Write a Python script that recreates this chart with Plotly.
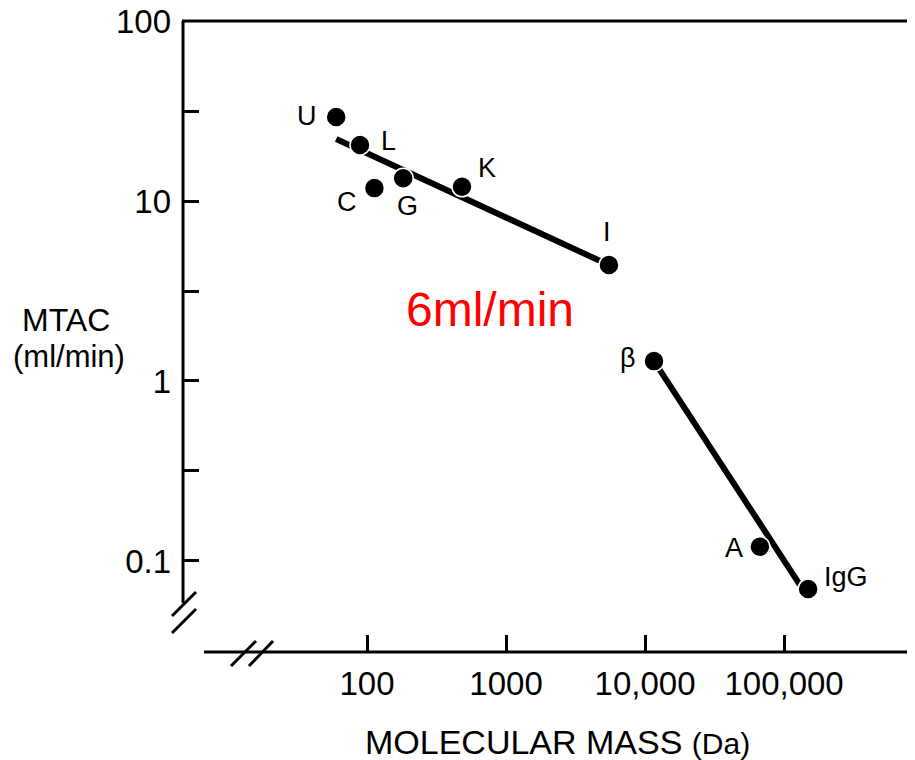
import numpy as np
import plotly.graph_objects as go

# ---- data ----
labels = ["U", "L", "C", "G", "K", "I", "β", "A", "IgG"]
mass_da = [60, 89, 113, 182, 482, 5500, 11600, 67000, 149000]
mtac = [29.3, 20.5, 11.8, 13.4, 12.0, 4.41, 1.29, 0.120, 0.0699]

small_line_mass = [60, 5500]
small_line_mtac = [22.1, 4.41]
large_line_mass = [11600, 130000]
large_line_mtac = [1.29, 0.0736]

x_tick_vals = [100, 1000, 10000, 100000]
x_tick_text = ["100", "1000", "10,000", "100,000"]
y_tick_vals = [0.1, 0.3162, 1, 3.162, 10, 31.62, 100]
y_tick_text = ["0.1", "", "1", "", "10", "", "100"]

annotation_text = "6ml/min"

# ---- layout constants (reference pixels; page body has 8px margin) ----
OFF = 8
W, H = 915 - OFF, 760 - OFF
PL, PR, PT, PB = 183, 915, 21, 652          # plot area in reference pixels
L_M, R_M, T_M, B_M = PL - OFF, 915 - PR, PT - OFF, 760 - PB
PW, PH = PR - PL, PB - PT
FONT = "Liberation Sans, Arial, Helvetica, sans-serif"


def px(x):
    return (x - PL) / PW


def py(y):
    return (PB - y) / PH


fig = go.Figure()

for xs, ys in [(small_line_mass, small_line_mtac), (large_line_mass, large_line_mtac)]:
    fig.add_trace(go.Scatter(x=xs, y=ys, mode="lines",
                             line=dict(color="black", width=6),
                             hoverinfo="skip", showlegend=False))

fig.add_trace(go.Scatter(x=mass_da, y=mtac, mode="markers",
                         marker=dict(color="black", size=20,
                                     line=dict(color="white", width=1.5)),
                         showlegend=False))

# label offsets in pixels relative to each point
offsets = {"U": (-29, 1), "L": (28, 4), "C": (-27, -14), "G": (4, -28),
           "K": (25, 19), "I": (-2, 33), "β": (-26, 3), "A": (-26, -1),
           "IgG": (38, 12)}
for lab, m, v in zip(labels, mass_da, mtac):
    dx, dy = offsets[lab]
    fig.add_annotation(x=np.log10(m), y=np.log10(v), xref="x", yref="y",
                       text=lab, showarrow=False, xshift=dx, yshift=dy,
                       xanchor="center", yanchor="middle",
                       font=dict(family=FONT, size=27, color="black"))


def paper_text(x, y, text, size, color="black"):
    fig.add_annotation(x=px(x), y=py(y), xref="paper", yref="paper",
                       text=text, showarrow=False,
                       xanchor="center", yanchor="middle",
                       font=dict(family=FONT, size=size, color=color))


# red annotation
paper_text(490, 309, annotation_text, 48, "red")

# axis titles
paper_text(66, 320, "MTAC", 32)
paper_text(69, 356, "(ml/min)", 31)
paper_text(557, 742, "MOLECULAR MASS <span style='font-size:30px'>(Da)</span>", 34)

# axis lines and break marks
lw = 3
segs = [
    ((183, 21), (183, 603)),      # y axis
    ((182, 21), (915, 21)),       # top line
    ((204, 652), (915, 652)),     # x axis
    ((172, 616), (196, 592)),     # y break slashes
    ((172, 633), (196, 609)),
    ((231, 666), (256, 641)),     # x break slashes
    ((249, 666), (273, 641)),
]
for (x0, y0), (x1, y1) in segs:
    fig.add_shape(type="line", xref="paper", yref="paper",
                  x0=px(x0), y0=py(y0), x1=px(x1), y1=py(y1),
                  line=dict(color="black", width=lw))

fig.update_xaxes(type="log", range=[0.676, 5.942], showgrid=False,
                 zeroline=False, showline=False, automargin=False,
                 tickmode="array", tickvals=x_tick_vals, ticktext=x_tick_text,
                 ticks="inside", ticklen=17, tickwidth=3, tickcolor="black",
                 ticklabelstandoff=9, ticklabeloverflow="allow",
                 tickfont=dict(family=FONT, size=33, color="black"))
fig.update_yaxes(type="log", range=[-1.506, 2.0005], showgrid=False,
                 zeroline=False, showline=False, automargin=False,
                 tickmode="array", tickvals=y_tick_vals, ticktext=y_tick_text,
                 ticks="inside", ticklen=16, tickwidth=3, tickcolor="black",
                 ticklabelstandoff=11, ticklabeloverflow="allow",
                 tickfont=dict(family=FONT, size=33, color="black"))

fig.update_layout(width=W, height=H,
                  margin=dict(l=L_M, r=R_M, t=T_M, b=B_M, pad=0,
                              autoexpand=False),
                  plot_bgcolor="white", paper_bgcolor="white",
                  showlegend=False)

fig.write_html("out.html")
